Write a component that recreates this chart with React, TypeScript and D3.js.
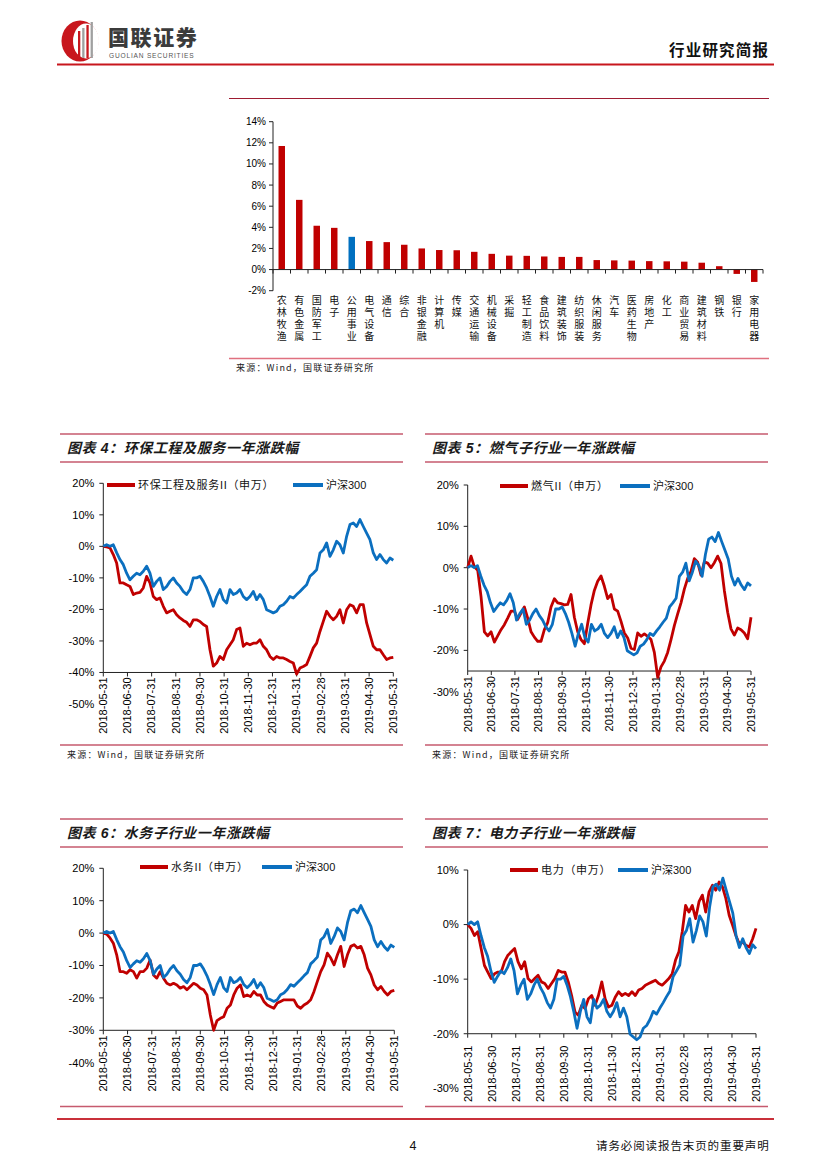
import React from 'react';
import * as d3 from 'd3';

// ---------- DATA ----------
const barCategories = ['农林牧渔','有色金属','国防军工','电子','公用事业','电气设备','通信','综合','非银金融','计算机','传媒','交通运输','机械设备','采掘','轻工制造','食品饮料','建筑装饰','纺织服装','休闲服务','汽车','医药生物','房地产','化工','商业贸易','建筑材料','钢铁','银行','家用电器'];
const barValues = [11.7, 6.6, 4.15, 3.95, 3.1, 2.7, 2.6, 2.35, 2.0, 1.85, 1.83, 1.68, 1.49, 1.32, 1.3, 1.24, 1.2, 1.2, 0.9, 0.87, 0.85, 0.8, 0.78, 0.75, 0.65, 0.32, -0.41, -1.17];
const barHighlight = '公用事业';
const barTicks = [14, 12, 10, 8, 6, 4, 2, 0, -2];

const dateLabels = ['2018-05-31','2018-06-30','2018-07-31','2018-08-31','2018-09-30','2018-10-31','2018-11-30','2018-12-31','2019-01-31','2019-02-28','2019-03-31','2019-04-30','2019-05-31'];

const hs300 = [0, 0.5, 0, 0.5, -2, -4.2, -5.8, -8.5, -10.6, -9.5,
  -8.5, -9, -7.9, -6.3, -8.5, -12.7, -11.1, -10, -13.7, -12.7,
  -11.1, -10, -11.6, -12.7, -14.3, -15.3, -13.7, -10, -10, -9.5,
  -11.1, -13.2, -15.9, -19, -15.9, -13.7, -16.9, -18, -13.7, -15.3,
  -14.8, -13.7, -15.9, -16.9, -15.9, -14.3, -16.9, -15.3, -16.9, -20.1,
  -20.6, -21.1, -20.6, -19, -18.5, -17.4, -15.9, -16.4, -15.3, -14.3,
  -13.2, -12.2, -9.5, -8.5, -7.4, -2.1, -1.1, 1.1, -3.2, -1.1,
  1.6, 0.5, -2.1, 3.2, 6.9, 7.4, 6.3, 8.5, 6.3, 4.2,
  2.1, -2.1, -4.2, -2.6, -4.2, -5.3, -3.7, -4.4];

const envProtection = [0, -0.2, -0.5, -2.6, -5.3, -11.6, -11.6, -12.2, -12.7, -15.3,
  -14.8, -14.6, -13.2, -9.5, -11.6, -15.9, -16.9, -16.4, -19, -21.1,
  -20.6, -20.1, -21.7, -22.7, -23.5, -24.1, -25.4, -23.3, -23.3, -23.8,
  -24.8, -25.4, -32.8, -38, -37, -34.9, -35.9, -32.8, -31.2, -29.6,
  -26.4, -25.9, -31.7, -30.7, -31.2, -30.7, -30.7, -29.6, -31.7, -32.8,
  -34.9, -35.9, -34.9, -35.4, -35.4, -35.9, -36.5, -37, -40.5, -38.6,
  -38.1, -37.5, -34.9, -32.2, -30.7, -27, -23.8, -20.6, -22.2, -23.3,
  -22.2, -20.1, -24.3, -20.1, -18.5, -19, -21.1, -18.5, -18.5, -24.3,
  -28, -31.7, -32.8, -32.8, -34.4, -35.9, -35.4, -35.2];

const gas = [0, 2.8, 0.2, -0.6, -7, -15.5, -16.5, -15.5, -18, -16.5,
  -15, -13.8, -12.2, -10.5, -10.5, -12.5, -11, -9.5, -12.2, -15.5,
  -16.8, -17.8, -17.8, -15, -13.3, -9.5, -7.5, -8.5, -8.7, -9,
  -8.9, -6.5, -12, -15.5, -17.4, -18.4, -13.5, -9, -5.5, -3.3,
  -2, -4.5, -7.5, -6.5, -10, -10.5, -13, -15.8, -17, -19.5,
  -19.8, -15.8, -16.6, -16, -16.6, -17.4, -20.5, -26.5, -24, -22.6,
  -20.5, -17.4, -14, -11.2, -8.5, -5.2, -2.6, -0.9, 2.2, 1.3,
  -1.8, 1.4, 1.1, 0, 1.2, 2.8, 1, -5.5, -10.8, -14.8,
  -16.3, -14.6, -15, -15.8, -17.2, -12];

const water = [0, -0.3, -1.5, -3.1, -6.7, -11.9, -11.9, -12.4, -11.3, -11.9,
  -13.9, -11.9, -11.9, -10.8, -8.3, -12.9, -13.9, -11.9, -13.9, -15.5,
  -16, -15.5, -16, -17, -16.5, -17.5, -16.5, -15.5, -16, -17,
  -17.5, -19.1, -25.3, -30, -27, -26.3, -25.8, -23.2, -22.2, -19.1,
  -17, -16, -19.6, -19.1, -19.6, -18, -19.1, -19.1, -21.1, -22.2,
  -22.7, -23.2, -21.6, -21.1, -20.6, -20.6, -20.6, -20.6, -22.5, -23.2,
  -22.2, -21.6, -20.6, -18, -14.9, -11.9, -9.8, -6.2, -7.7, -9.8,
  -6.7, -4.1, -10.3, -6.7, -4.1, -3.6, -4.6, -4.1, -6.7, -10.8,
  -12.9, -16, -17.5, -16.5, -18, -19.1, -18, -17.7];

const power = [0, -0.7, -2, -1.3, -4.4, -7.5, -8.7, -9.9, -9, -8.7,
  -8.7, -6.8, -5.6, -5, -4.4, -6.8, -8.1, -6.8, -9.9, -10.5,
  -9.9, -9.3, -10.5, -10.8, -11.7, -10.8, -9.9, -8.4, -8.7, -8.7,
  -10.5, -13, -16, -16.6, -14.8, -15.4, -13.6, -13, -14.8, -13,
  -10.5, -13.6, -15.1, -14.8, -13.3, -12.3, -13, -12.6, -13, -12.3,
  -13, -12, -11.7, -11.1, -10.8, -10.5, -10.2, -10.8, -11.1, -10.5,
  -9.9, -9, -6.5, -5, -1.3, 3.5, 2.3, 3.5, 1.1, 4.2,
  5.4, 2.3, 6, 7.2, 6.3, 7.8, 6.9, 4.8, 1.7, -0.1,
  -2, -3.5, -3.2, -3.8, -4.1, -2.6, -0.7];

const ticks4 = [20, 10, 0, -10, -20, -30, -40, -50];
const ticks5 = [20, 10, 0, -10, -20, -30];
const ticks6 = [20, 10, 0, -10, -20, -30, -40];
const ticks7 = [10, 0, -10, -20, -30];

// ---------- STYLE ----------
const RED = '#C00000';
const BLUE = '#0B6FBF';
const SECTION = '#C65A6E';
const LAT = "'Liberation Sans', Arial, 'Noto Sans CJK SC', sans-serif";
const CJK = "'Noto Sans CJK SC', 'Liberation Sans', sans-serif";

const pct = (v: number) => `${v}%`;

function BarChart() {
  const x = d3.scaleBand<string>().domain(barCategories).range([273, 763]).padding(0);
  const y = d3.scaleLinear().domain([-2, 14]).range([290.7, 121.7]);
  const bw = x.bandwidth() * 0.37;
  const y0 = y(0);
  return (
    <g>
      <line x1={229} x2={769} y1={98.5} y2={98.5} stroke="#9E1B32" strokeWidth={1} />
      {barCategories.map((c, i) => {
        const v = barValues[i];
        const cx = (x(c) as number) + x.bandwidth() / 2;
        return (
          <rect key={c} x={cx - bw / 2} y={Math.min(y(v), y0)} width={bw}
            height={Math.abs(y(v) - y0)} fill={c === barHighlight ? '#0070C0' : RED} />
        );
      })}
      <line x1={273} x2={273} y1={y(14)} y2={y(-2)} stroke="#222" strokeWidth={1} />
      {barTicks.map(t => (
        <g key={t}>
          <line x1={269} x2={273} y1={y(t)} y2={y(t)} stroke="#222" strokeWidth={1} />
          <text x={266} y={y(t)} dy="0.35em" textAnchor="end" fontSize={10} fontFamily={LAT} fill="#000">{pct(t)}</text>
        </g>
      ))}
      <line x1={273} x2={763} y1={y0} y2={y0} stroke="#222" strokeWidth={1} />
      {d3.range(barCategories.length + 1).map(i => {
        const xx = 273 + i * x.step();
        return <line key={i} x1={xx} x2={xx} y1={y0} y2={y0 + 4} stroke="#222" strokeWidth={1} />;
      })}
      {barCategories.map(c => {
        const cx = (x(c) as number) + x.bandwidth() / 2;
        return (
          <text key={c} x={cx} y={295} fontSize={10} fontFamily={CJK} fill="#111"
            letterSpacing={2} style={{ writingMode: 'vertical-rl' }}>{c}</text>
        );
      })}
      <line x1={229} x2={769} y1={358.5} y2={358.5} stroke="#E0707F" strokeWidth={1.3} />
      <text x={236} y={371} fontSize={9} fontFamily={CJK} letterSpacing={1.2} fill="#222">来源：Wind，国联证券研究所</text>
    </g>
  );
}

type LCProps = {
  left: number; right: number; top: number; title: string;
  name: string; data: number[]; ticks: number[];
  yDomain: [number, number]; yRange: [number, number]; axisAt: number;
  xRange: [number, number]; labelGap: number;
  legendX: number; legendY: number; blueX: number;
  source: boolean; bottom: number;
};

function LineChart(p: LCProps) {
  const y = d3.scaleLinear().domain(p.yDomain).range(p.yRange);
  const xt = d3.scalePoint<string>().domain(dateLabels).range(p.xRange);
  const mk = (arr: number[]) => {
    const xs = d3.scaleLinear().domain([0, arr.length - 1]).range(p.xRange);
    return d3.line<number>().x((_, i) => xs(i)).y(v => y(v))(arr) as string;
  };
  const ax = y(p.axisAt);
  const yTop = y(d3.max(p.ticks) as number);
  return (
    <g>
      <line x1={p.left} x2={p.right} y1={p.top} y2={p.top} stroke={SECTION} strokeWidth={1.5} />
      <text x={p.left + 7} y={p.top + 19} fontSize={14} fontWeight={700} fontStyle="italic"
        fontFamily={LAT} letterSpacing={0.6} fill="#1a1a1a">{p.title}</text>
      <line x1={p.left} x2={p.right} y1={p.top + 28} y2={p.top + 28} stroke={SECTION} strokeWidth={1.5} />

      {/* axes */}
      <line x1={p.xRange[0]} x2={p.xRange[0]} y1={yTop} y2={ax} stroke="#222" strokeWidth={1} />
      {p.ticks.map(t => (
        <g key={t}>
          {y(t) <= ax + 0.5 && <line x1={p.xRange[0] - 4} x2={p.xRange[0]} y1={y(t)} y2={y(t)} stroke="#222" strokeWidth={1} />}
          <text x={p.xRange[0] - 9} y={y(t)} dy="0.35em" textAnchor="end" fontSize={11} fontFamily={LAT} fill="#000">{pct(t)}</text>
        </g>
      ))}
      <line x1={p.xRange[0]} x2={p.xRange[1]} y1={ax} y2={ax} stroke="#222" strokeWidth={1} />
      {dateLabels.map(d => {
        const xx = xt(d) as number;
        return (
          <g key={d}>
            <line x1={xx} x2={xx} y1={ax} y2={ax + 4} stroke="#222" strokeWidth={1} />
            <text transform={`translate(${xx},${ax + p.labelGap}) rotate(-90)`} dy="0.35em" textAnchor="end"
              fontSize={11} fontFamily={LAT} fill="#000">{d}</text>
          </g>
        );
      })}

      {/* series */}
      <path d={mk(p.data)} fill="none" stroke={RED} strokeWidth={2.8} strokeLinejoin="round" />
      <path d={mk(hs300)} fill="none" stroke={BLUE} strokeWidth={2.8} strokeLinejoin="round" />

      {/* legend */}
      <line x1={p.legendX} x2={p.legendX + 28} y1={p.legendY} y2={p.legendY} stroke={RED} strokeWidth={4} />
      <text x={p.legendX + 31} y={p.legendY} dy="0.36em" fontSize={11} fontFamily={LAT} letterSpacing={0.7} fill="#111">{p.name}</text>
      <line x1={p.blueX} x2={p.blueX + 30} y1={p.legendY} y2={p.legendY} stroke={BLUE} strokeWidth={4} />
      <text x={p.blueX + 33} y={p.legendY} dy="0.36em" fontSize={11} fontFamily={LAT} fill="#111">沪深300</text>

      {p.source ? (
        <g>
          <line x1={p.left} x2={p.right} y1={745} y2={745} stroke={SECTION} strokeWidth={1.3} />
          <text x={p.left + 7} y={758} fontSize={9} fontFamily={CJK} letterSpacing={1.2} fill="#222">来源：Wind，国联证券研究所</text>
        </g>
      ) : (
        <line x1={p.left} x2={p.right} y1={p.bottom} y2={p.bottom} stroke={SECTION} strokeWidth={1.3} />
      )}
    </g>
  );
}

function Header() {
  return (
    <g>
      <ellipse cx={80} cy={41} rx={18.5} ry={20.5} fill="#C8161D" />
      <ellipse cx={86} cy={41} rx={13} ry={17.5} fill="#fff" />
      {[0, 1, 2, 3].map(i => (
        <rect key={i} x={78 + i * 4.2} y={31 - i * 3} width={2.3} height={27 + i * 3} fill={i % 2 ? '#a0a0a0' : '#C8161D'} />
      ))}
      <text x={108} y={45} fontSize={21} fontWeight={900} fill="#3b3b3b" letterSpacing={1.6} fontFamily={CJK}>国联证券</text>
      <text x={109} y={58} fontSize={6.6} fill="#555" letterSpacing={0.8} fontFamily={LAT}>GUOLIAN SECURITIES</text>
      <text x={669} y={56} fontSize={15.5} fontWeight={700} fill="#111" letterSpacing={1.2} fontFamily={CJK}>行业研究简报</text>
      <line x1={57} x2={774} y1={64.5} y2={64.5} stroke="#C8161D" strokeWidth={1.8} />
    </g>
  );
}

function Footer() {
  return (
    <g>
      <line x1={57} x2={774} y1={1119} y2={1119} stroke="#C9303A" strokeWidth={2.2} />
      <text x={413} y={1150} fontSize={12.5} textAnchor="middle" fontFamily={LAT} fill="#111">4</text>
      <text x={596} y={1150} fontSize={11.5} fontFamily={CJK} letterSpacing={0.9} fill="#111">请务必阅读报告末页的重要声明</text>
    </g>
  );
}

export default function App() {
  return (
    <svg width={827} height={1169} viewBox="0 0 827 1169"
      style={{ position: 'absolute', left: 0, top: 0, background: '#fff' }}>
      <rect x={0} y={0} width={827} height={1169} fill="#fff" />
      <Header />
      <BarChart />
      <LineChart left={60} right={403} top={434} title="图表 4：环保工程及服务一年涨跌幅"
        name="环保工程及服务II（申万）" data={envProtection} ticks={ticks4}
        yDomain={[-50, 20]} yRange={[704, 483.3]} axisAt={-40}
        xRange={[103.3, 393.3]} labelGap={5}
        legendX={107} legendY={485} blueX={293}
        source={true} bottom={0} />
      <LineChart left={425} right={768} top={434} title="图表 5：燃气子行业一年涨跌幅"
        name="燃气II（申万）" data={gas} ticks={ticks5}
        yDomain={[-30, 20]} yRange={[691.7, 485]} axisAt={-25}
        xRange={[467.7, 751]} labelGap={5}
        legendX={500} legendY={486} blueX={620}
        source={true} bottom={0} />
      <LineChart left={60} right={403} top={819} title="图表 6：水务子行业一年涨跌幅"
        name="水务II（申万）" data={water} ticks={ticks6}
        yDomain={[-40, 20]} yRange={[1062.7, 868.3]} axisAt={-30}
        xRange={[103.3, 394.3]} labelGap={5}
        legendX={140} legendY={867} blueX={262}
        source={false} bottom={1106.5} />
      <LineChart left={425} right={768} top={819} title="图表 7：电力子行业一年涨跌幅"
        name="电力（申万）" data={power} ticks={ticks7}
        yDomain={[-30, 10]} yRange={[1088.3, 870]} axisAt={-20}
        xRange={[467.7, 756]} labelGap={12}
        legendX={510} legendY={870} blueX={618}
        source={false} bottom={1106.5} />
      <Footer />
    </svg>
  );
}
